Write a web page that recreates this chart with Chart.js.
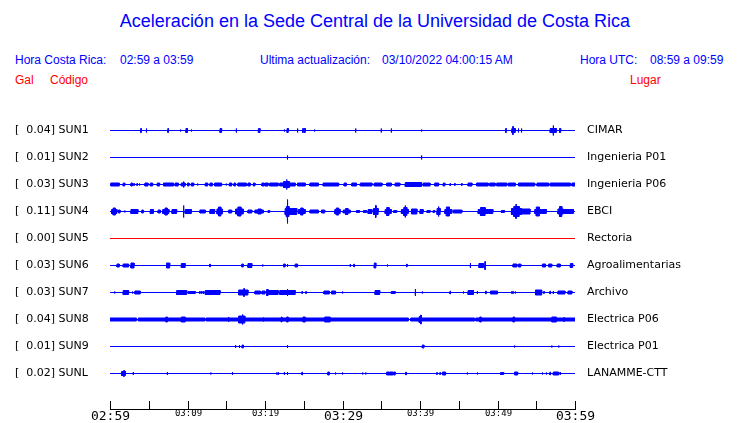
<!DOCTYPE html>
<html>
<head>
<meta charset="utf-8">
<script src="https://cdn.jsdelivr.net/npm/chart.js@4.4.1/dist/chart.umd.min.js"></script>
<style>
  body { margin: 0; background: #fff; }
  #wrap { position: relative; width: 740px; height: 423px; font-family: "Liberation Sans", Arial, sans-serif; }
  .t { position: absolute; white-space: pre; line-height: 1; }
  .b { color: #0000ff; font-size: 12px; }
  .r { color: #ff0000; font-size: 12px; }
  canvas { position: absolute; left: 0; top: 0; }
</style>
</head>
<body>
<div id="wrap">
  <div class="t" style="left:0;width:750px;text-align:center;top:12px;font-size:18px;color:#0000ff">Aceleración en la Sede Central de la Universidad de Costa Rica</div>
  <div class="t b" style="left:15px;top:54px">Hora Costa Rica:</div>
  <div class="t b" style="left:120px;top:54px">02:59 a 03:59</div>
  <div class="t b" style="left:260px;top:54px">Ultima actualización:</div>
  <div class="t b" style="left:382px;top:54px">03/10/2022 04:00:15 AM</div>
  <div class="t b" style="left:580px;top:54px">Hora UTC:</div>
  <div class="t b" style="left:650px;top:54px">08:59 a 09:59</div>
  <div class="t r" style="left:15px;top:74px">Gal</div>
  <div class="t r" style="left:50px;top:74px">Código</div>
  <div class="t r" style="left:630px;top:74px">Lugar</div>
  <canvas id="chart" width="740" height="423"></canvas>
</div>
<script>
// stations, top to bottom
const stationCodes = ['SUN1', 'SUN2', 'SUN3', 'SUN4', 'SUN5', 'SUN6', 'SUN7', 'SUN8', 'SUN9', 'SUNL'];
const stationPeaks = [0.04, 0.01, 0.03, 0.11, 0.00, 0.03, 0.03, 0.04, 0.01, 0.02];
const stationPlaces = ['CIMAR', 'Ingenieria P01', 'Ingenieria P06', 'EBCI', 'Rectoria',
  'Agroalimentarias', 'Archivo', 'Electrica P06', 'Electrica P01', 'LANAMME-CTT'];

// time axis, minutes after 02:59
const timeTicks = [0, 5, 10, 15, 20, 25, 30, 35, 40, 45, 50, 55, 60];
const timeLabels = ['02:59', '', '03:09', '', '03:19', '', '03:29', '', '03:39', '', '03:49', '', '03:59'];

// trace envelopes: [minute, amp] spike or [from, to, amp] burst (amp in counts)
const sun1 = [[4.0, 2], [4.7, 2], [7.5, 2], [9.1, 1], [9.8, 10.0, 2], [10.5, 1], [14.2, 14.4, 2], [16.3, 2],
  [19.15, 19.35, 2], [22.5, 1], [22.85, 23.0, 2], [24.2, 2], [24.9, 2], [25.05, 25.2, 2], [26.4, 1], [31.7, 2],
  [35.0, 2], [36.3, 2], [40.2, 1], [51.1, 2], [51.85, 52.3, 2], [52.0, 4], [52.7, 2], [53.1, 2],
  [56.8, 57.6, 2], [57.2, 5], [58.0, 58.15, 2]];
const sun2 = [[22.9, 2], [40.2, 2]];
const sun3 = [[0.1, 1.2, 1.5], [1.7, 1.9, 1.5], [2.7, 2.9, 1.5], [3.1, 1], [3.5, 1], [3.8, 1], [4.5, 4.9, 1.5],
  [5.2, 5.5, 1.5], [6.1, 6.4, 1.5], [6.9, 8.2, 1.5], [8.4, 8.8, 1.5], [9.2, 9.7, 1.5], [9.5, 3], [10.0, 10.2, 1.5],
  [10.5, 10.8, 1.5], [11.3, 1], [12.3, 12.6, 1.5], [12.9, 13.2, 1.5], [13.5, 14.4, 1.5], [15.0, 1],
  [15.4, 15.7, 1.5], [16.0, 16.2, 1.5], [16.5, 17.6, 1.5], [17.8, 18.1, 1.5], [18.5, 18.7, 1.5], [19.6, 19.9, 1.5],
  [20.0, 20.4, 1.5], [20.6, 21.7, 1.5], [21.9, 22.6, 1.5], [22.4, 23.1, 3], [22.8, 5], [23.2, 23.9, 1.5],
  [24.2, 25.2, 1.5], [25.8, 26.9, 1.5], [27.5, 29.5, 1.5], [30.2, 30.5, 1.5], [31.2, 31.8, 1.5], [32.3, 33.8, 1.5],
  [34.1, 35.1, 1.5], [35.7, 36.3, 1.5], [36.8, 37.4, 1.5], [38.1, 40.2, 2], [40.4, 41.3, 1.5], [41.9, 42.4, 1.5],
  [43.0, 43.2, 1.5], [43.9, 1], [44.5, 1], [45.4, 1], [46.2, 46.7, 1.5], [47.3, 48.8, 1.5], [49.0, 49.7, 1.5],
  [49.9, 51.2, 1.5], [51.4, 52.3, 1.5], [52.7, 54.8, 1.5], [55.1, 56.6, 1.5], [56.8, 59.4, 1.5], [59.6, 60, 1.5]];
const sun4 = [[0.2, 0.9, 2], [0.4, 0.7, 3.5], [1.1, 1.3, 1.5], [1.9, 1], [2.7, 3.6, 2], [4.1, 4.3, 1.5],
  [5.2, 5.6, 2], [6.2, 6.5, 1.5], [6.8, 7.6, 2], [7.1, 7.4, 3.5], [8.0, 8.6, 2], [9.5, 6], [9.7, 10.5, 2],
  [11.6, 12.3, 1.5], [12.9, 13.5, 2], [13.8, 14.5, 2.5], [14.0, 14.3, 4.5], [15.3, 15.7, 1.5],
  [16.2, 17.2, 2.5], [16.5, 16.9, 4.5], [17.8, 18.3, 1.5], [18.7, 19.8, 1.5], [19.1, 19.5, 2.5], [20.4, 20.6, 1],
  [22.6, 23.4, 3], [22.75, 23.1, 5], [22.9, 12], [23.4, 24.1, 3], [24.3, 25.2, 2], [24.6, 24.9, 3.5],
  [25.8, 26.9, 1.5], [27.3, 27.7, 1.5], [29.0, 29.7, 2], [29.2, 29.5, 3.5], [30.1, 31.0, 1.5], [30.4, 30.7, 3],
  [31.8, 32.2, 1], [32.7, 33.1, 1], [33.3, 33.8, 2], [34.0, 34.6, 3], [34.3, 6], [35.5, 36.3, 2],
  [35.7, 36.0, 4], [36.6, 37.0, 1], [37.6, 38.5, 2], [37.9, 38.3, 4], [38.1, 6], [38.9, 39.6, 2.5],
  [40.0, 40.4, 2], [40.9, 41.3, 1], [41.7, 41.9, 1], [42.2, 42.6, 3], [42.4, 5], [43.2, 44.1, 2],
  [43.4, 43.8, 4.5], [44.3, 45.4, 1.5], [47.5, 48.8, 2], [47.8, 48.4, 4], [48.8, 49.4, 2], [50.5, 50.9, 1],
  [51.8, 53.1, 3], [52.1, 52.8, 5], [52.4, 7], [53.1, 54.2, 2.5], [54.8, 55.7, 2], [55.0, 55.4, 4.5],
  [55.7, 56.3, 2], [57.8, 58.5, 2.5], [58.0, 58.3, 5], [58.5, 59.8, 2]];
const sun5 = [];
const sun6 = [[0.9, 1.2, 1.5], [1.7, 2.4, 1.5], [2.7, 3.1, 2.5], [7.3, 7.7, 2.5], [9.2, 9.7, 2], [12.9, 1.5],
  [17.0, 17.2, 1.5], [17.8, 18.3, 2], [19.7, 1], [22.4, 22.6, 1.5], [22.9, 1.5], [23.9, 24.2, 1.5], [31.0, 1.5],
  [31.5, 1.5], [34.1, 34.3, 2.5], [35.8, 1], [38.3, 1.5], [46.5, 2.5], [47.6, 48.2, 2], [48.4, 4],
  [52.0, 52.5, 1.5], [52.7, 53.0, 1.5], [55.8, 56.2, 1.5], [56.6, 57.0, 1.5], [57.7, 58.1, 1.5], [59.4, 59.7, 2]];
const sun7 = [[0.6, 1], [1.7, 2.4, 2], [2.1, 2.5], [2.9, 1], [3.2, 3.9, 1.5], [8.6, 9.9, 2], [10.1, 11.0, 1],
  [11.6, 1], [11.85, 1], [12.1, 1], [12.3, 14.2, 2], [16.6, 17.8, 2.5], [17.3, 4], [18.7, 19.4, 1.5],
  [19.6, 20.0, 1.5], [20.2, 20.4, 3], [20.4, 21.7, 2], [21.9, 23.9, 2], [22.9, 3.5], [24.8, 1], [25.3, 1],
  [27.6, 28.3, 1.5], [28.6, 29.1, 1.5], [30.0, 1], [34.2, 34.8, 2], [36.3, 36.8, 1], [39.4, 3.5], [40.3, 1],
  [43.9, 1.5], [45.6, 1], [46.2, 46.9, 2], [47.4, 1.5], [48.5, 1.5], [49.1, 50.0, 1.5], [51.8, 1], [52.0, 1],
  [52.3, 1], [54.9, 55.7, 2.5], [56.0, 1], [56.8, 1.5], [57.2, 1.5], [57.8, 58.7, 1.5], [59.1, 59.6, 1.5]];
const sun8 = [[0, 3.4, 1.5], [3.65, 12.25, 1.5], [12.4, 38.5, 1.5], [38.8, 47.05, 1.5], [47.2, 60, 1.5],
  [7.2, 7.4, 2.5], [9.2, 9.7, 2.5], [15.3, 2.5], [16.6, 17.4, 3.5], [17.1, 5], [19.8, 2], [22.1, 22.2, 2.5],
  [22.8, 23.0, 2.5], [24.9, 25.2, 2.5], [27.7, 28.4, 2.5], [39.9, 40.2, 3], [40.1, 4.5], [47.7, 47.9, 2.5],
  [52.0, 52.2, 2.5], [57.0, 57.6, 2.5], [58.6, 2]];
const sun9 = [[16.2, 1.5], [16.7, 1.5], [17.05, 17.2, 1.5], [22.9, 1.5], [40.3, 40.5, 1.5], [52.2, 1],
  [57.0, 1], [57.9, 1]];
const sunL = [[1.5, 2.0, 2], [1.8, 3], [3.0, 1.5], [7.4, 1.5], [13.0, 1], [15.8, 1.5], [21.5, 1], [21.7, 1],
  [22.5, 1.5], [22.9, 1.5], [24.8, 1.5], [28.1, 28.3, 1.5], [29.1, 1], [30.0, 1], [32.6, 1], [33.0, 1],
  [35.7, 36.0, 1.5], [36.1, 36.5, 1.5], [36.6, 36.8, 1.5], [38.2, 1.5], [42.2, 1], [42.6, 1], [42.9, 43.3, 1.5],
  [46.1, 1], [47.4, 1], [50.4, 50.8, 1], [52.2, 52.6, 1.5], [54.5, 1], [55.8, 1], [56.3, 1], [56.8, 1.5],
  [57.2, 57.9, 1.5], [58.1, 1.5]];
const stationEvents = [sun1, sun2, sun3, sun4, sun5, sun6, sun7, sun8, sun9, sunL];

const COUNTS_PER_ROW = 27;
const SPIKE_HALF = 0.03;

// turn events into a step envelope (largest amp wins where they overlap)
function steps(events) {
    const spans = events.map(e => e.length === 3 ? e : [e[0] - SPIKE_HALF, e[0] + SPIKE_HALF, e[1]]);
    let edges = [0, 60];
    spans.forEach(s => edges.push(Math.max(0, s[0]), Math.min(60, s[1])));
    edges = [...new Set(edges)].sort((a, b) => a - b);
    const out = [];
    for (let i = 0; i < edges.length - 1; i++) {
        const mid = (edges[i] + edges[i + 1]) / 2;
        let amp = 0;
        spans.forEach(s => { if (s[0] <= mid && mid < s[1]) amp = Math.max(amp, s[2]); });
        out.push([edges[i], edges[i + 1], amp]);
    }
    return out;
}

function traceLine(events, row, sign) {
    return steps(events).flatMap(([a, b, amp]) => {
        const y = row + sign * amp / COUNTS_PER_ROW;
        return [{ x: a, y: y }, { x: b, y: y }];
    });
}

const datasets = [];
stationEvents.forEach((ev, i) => {
    const color = i === 4 ? '#ff0000' : '#0000ff';
    datasets.push({ data: traceLine(ev, i, -1), borderColor: color, borderWidth: 1, pointRadius: 0, fill: false });
    datasets.push({ data: traceLine(ev, i, 1), borderColor: color, backgroundColor: color, borderWidth: 1, pointRadius: 0, fill: '-1' });
});

// time axis: line under the traces, ticks standing up, two label sizes
const timeAxis = {
    id: 'timeAxis',
    afterDraw(chart) {
        const x = chart.scales.x;
        const bottom = chart.chartArea.bottom;
        const ctx = chart.ctx;
        ctx.save();
        ctx.strokeStyle = '#000';
        ctx.fillStyle = '#000';
        ctx.lineWidth = 1;
        ctx.beginPath();
        ctx.moveTo(x.left, bottom + 0.5);
        ctx.lineTo(x.right + 1, bottom + 0.5);
        ctx.stroke();
        ctx.textAlign = 'center';
        ctx.textBaseline = 'middle';
        timeTicks.forEach((v, i) => {
            const px = Math.round(x.getPixelForValue(v)) + 0.5;
            ctx.beginPath();
            ctx.moveTo(px, bottom + 1);
            ctx.lineTo(px, bottom - 8);
            ctx.stroke();
            const big = v % 30 === 0;
            ctx.font = (big ? 13 : 9) + 'px "DejaVu Sans Mono"';
            ctx.fillText(timeLabels[i], px, bottom + (big ? 7.5 : 5));
        });
        ctx.restore();
    }
};

const yMin = -1 - 0.5 / COUNTS_PER_ROW;
const yMax = 10 + 1 / 3 - 0.5 / COUNTS_PER_ROW;
const rowTicks = s => { s.ticks = stationCodes.map((_, i) => ({ value: i })); };

new Chart(document.getElementById('chart'), {
    type: 'line',
    data: { datasets: datasets },
    plugins: [timeAxis],
    options: {
        responsive: false,
        animation: false,
        events: [],
        layout: { padding: { top: 103, left: 15, right: 0, bottom: 14 } },
        elements: { line: { tension: 0 } },
        plugins: { legend: { display: false }, tooltip: { enabled: false } },
        scales: {
            x: { type: 'linear', display: false, min: 0, max: 60 },
            y: {
                type: 'linear', position: 'left', reverse: true, min: yMin, max: yMax,
                grid: { display: false, drawTicks: false }, border: { display: false },
                afterBuildTicks: rowTicks,
                afterFit: s => { s.width = 95; s.paddingTop = 0; s.paddingBottom = 0; },
                ticks: {
                    crossAlign: 'far', color: '#000', font: { family: 'DejaVu Sans', size: 11 },
                    callback: (v, i) => '[  ' + stationPeaks[i].toFixed(2) + '] ' + stationCodes[i]
                }
            },
            y2: {
                type: 'linear', position: 'right', reverse: true, min: yMin, max: yMax,
                grid: { display: false, drawTicks: false }, border: { display: false },
                afterBuildTicks: rowTicks,
                // the 12px label gap would otherwise also be reserved under the plot
                afterFit: s => { s.width = 165; s.paddingTop = 0; s.paddingBottom = 0; },
                ticks: {
                    padding: 12, color: '#000', font: { family: 'DejaVu Sans', size: 11 },
                    callback: (v, i) => stationPlaces[i]
                }
            }
        }
    }
});
</script>
</body>
</html>
